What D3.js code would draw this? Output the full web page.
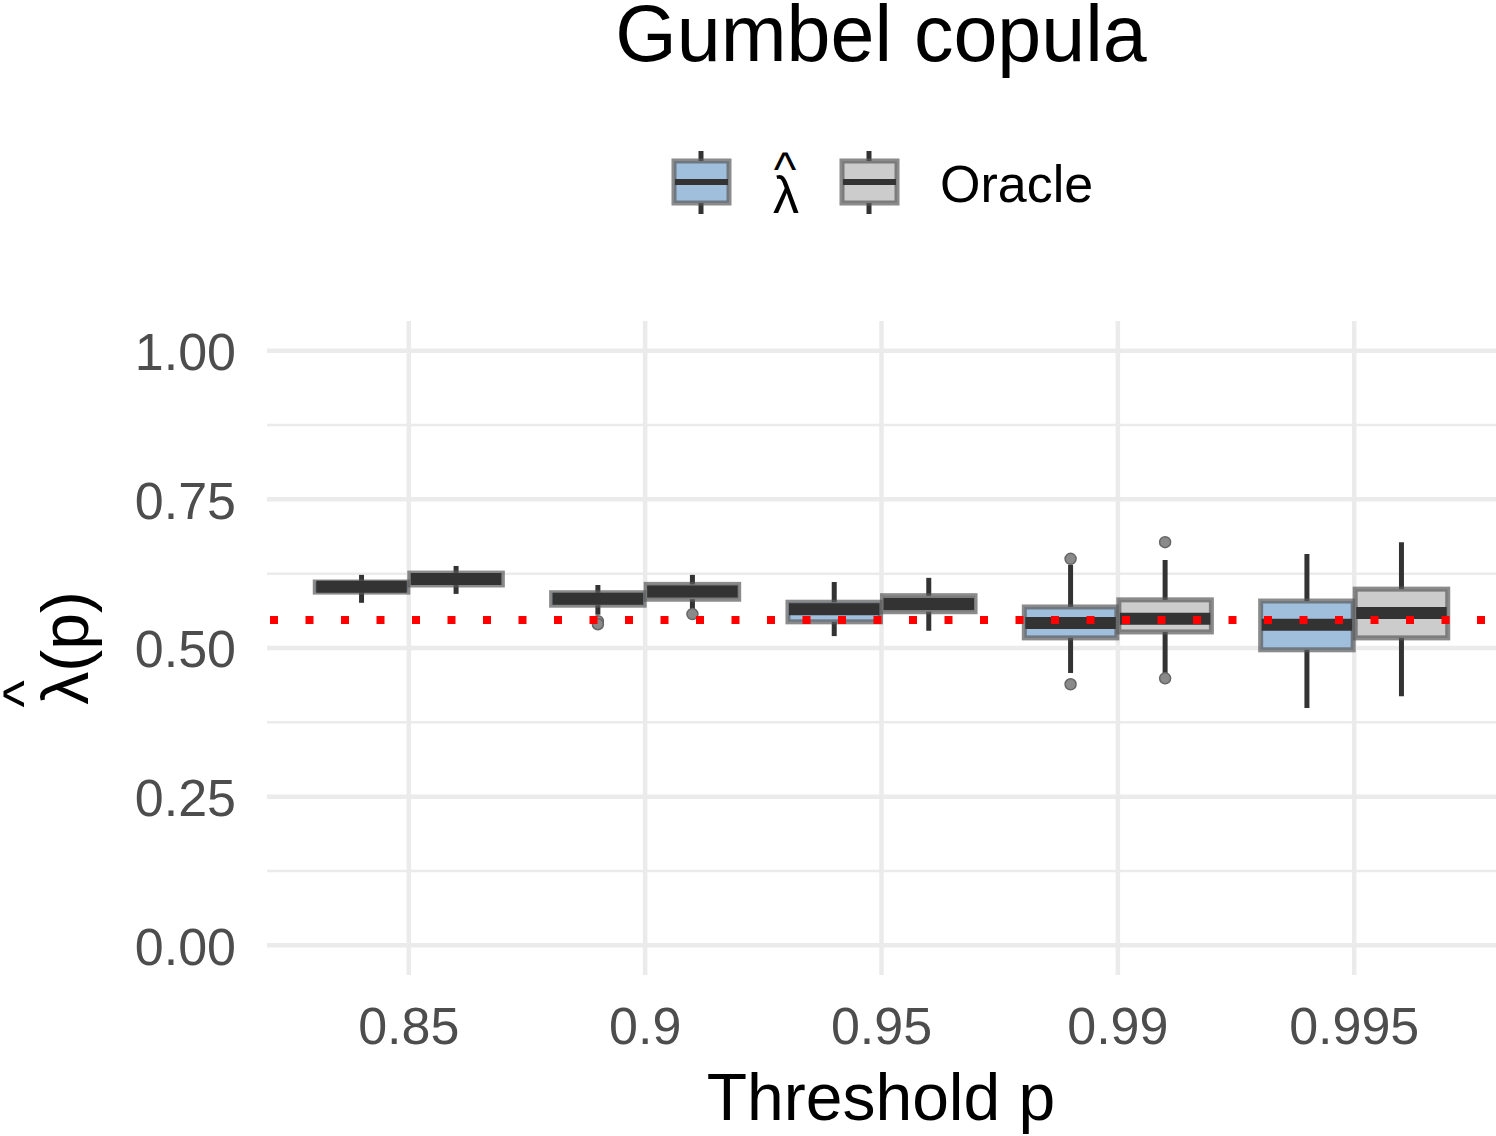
<!DOCTYPE html>
<html>
<head>
<meta charset="utf-8">
<script src="https://cdn.jsdelivr.net/npm/d3@7"></script>
<style>
  body { margin: 0; background: #fff; }
  text { font-family: "Liberation Sans", Arial, sans-serif; }
</style>
</head>
<body>
<div id="chart"></div>
<script>
var width = 1496,
    height = 1136;

// data
var thresholds = ["0.85", "0.9", "0.95", "0.99", "0.995"];
var methods = ["lambdahat", "oracle"];
var fills = {lambdahat: "#a0bfdc", oracle: "#cccccc"};

// [lower whisker, Q1, median, Q3, upper whisker]
var lambdaHatStats = [
  [0.576, 0.594, 0.603, 0.611, 0.623],
  [0.556, 0.572, 0.583, 0.593, 0.606],
  [0.520, 0.544, 0.565, 0.577, 0.611],
  [0.458, 0.517, 0.542, 0.569, 0.640],
  [0.399, 0.497, 0.539, 0.579, 0.658]
];
var oracleStats = [
  [0.591, 0.606, 0.616, 0.626, 0.638],
  [0.561, 0.582, 0.595, 0.607, 0.623],
  [0.529, 0.561, 0.574, 0.588, 0.618],
  [0.458, 0.527, 0.549, 0.581, 0.648],
  [0.419, 0.517, 0.559, 0.599, 0.678]
];
var lambdaHatOutliers = [[], [0.545, 0.540], [], [0.650, 0.439], []];
var oracleOutliers = [[], [0.557], [], [0.678, 0.449], []];

var trueValue = 0.547;
var yTicks = [0, 0.25, 0.5, 0.75, 1];
var yMinor = [0.125, 0.375, 0.625, 0.875];

var boxes = [];
thresholds.forEach(function (t, i) {
  boxes.push({t: t, m: "lambdahat", s: lambdaHatStats[i], out: lambdaHatOutliers[i]});
  boxes.push({t: t, m: "oracle", s: oracleStats[i], out: oracleOutliers[i]});
});

var svg = d3.select("#chart").append("svg")
    .attr("width", width)
    .attr("height", height);

var x = d3.scaleBand()
    .domain(thresholds)
    .range([267, 1496])
    .paddingOuter(0.1)
    .paddingInner(0);
var xc = function (t) { return x(t) + x.bandwidth() / 2; };

var xm = d3.scaleBand()
    .domain(methods)
    .range([-x.bandwidth() * 0.4, x.bandwidth() * 0.4]);

var y = d3.scaleLinear()
    .domain([-0.05, 1.05])
    .range([975, 321]);

// grid
var grid = svg.append("g");
grid.selectAll(".minor")
    .data(yMinor)
    .enter().append("line")
    .attr("x1", 267).attr("x2", 1496)
    .attr("y1", function (d) { return y(d); })
    .attr("y2", function (d) { return y(d); })
    .attr("stroke", "#ebebeb").attr("stroke-width", 2.5);
grid.selectAll(".major")
    .data(yTicks)
    .enter().append("line")
    .attr("x1", 267).attr("x2", 1496)
    .attr("y1", function (d) { return y(d); })
    .attr("y2", function (d) { return y(d); })
    .attr("stroke", "#ebebeb").attr("stroke-width", 4.5);
grid.selectAll(".vx")
    .data(thresholds)
    .enter().append("line")
    .attr("x1", xc).attr("x2", xc)
    .attr("y1", 321).attr("y2", 975)
    .attr("stroke", "#ebebeb").attr("stroke-width", 4.5);

// axes
var yAxis = svg.append("g")
    .attr("transform", "translate(236,0)")
    .call(d3.axisLeft(y).tickValues(yTicks).tickFormat(d3.format(".2f")).tickSize(0));
yAxis.select(".domain").remove();
yAxis.selectAll("text")
    .attr("font-size", 52).attr("fill", "#4d4d4d")
    .attr("x", 0).attr("dy", "0.36em")
    .style("font-family", "Liberation Sans, Arial, sans-serif");

var xAxis = svg.append("g")
    .attr("transform", "translate(0,1005)")
    .call(d3.axisBottom(x).tickSize(0));
xAxis.select(".domain").remove();
xAxis.selectAll("text")
    .attr("font-size", 52).attr("fill", "#4d4d4d")
    .attr("y", 0).attr("dy", "0.75em")
    .style("font-family", "Liberation Sans, Arial, sans-serif");

// boxes
var bw = xm.bandwidth();
var bg = svg.append("g").selectAll(".box")
    .data(boxes)
    .enter().append("g")
    .attr("transform", function (d) { return "translate(" + (xc(d.t) + xm(d.m) + bw / 2) + ",0)"; });

bg.append("line")
    .attr("x1", 0).attr("x2", 0)
    .attr("y1", function (d) { return y(d.s[0]); })
    .attr("y2", function (d) { return y(d.s[4]); })
    .attr("stroke", "#333").attr("stroke-width", 5);
bg.append("rect")
    .attr("x", -bw / 2 + 1).attr("width", bw - 2)
    .attr("y", function (d) { return y(d.s[3]); })
    .attr("height", function (d) { return y(d.s[1]) - y(d.s[3]); })
    .attr("fill", function (d) { return fills[d.m]; })
    .attr("stroke", "#5a5a5a").attr("stroke-opacity", 0.7).attr("stroke-width", 5);
bg.append("line")
    .attr("x1", -bw / 2 + 2).attr("x2", bw / 2 - 2)
    .attr("y1", function (d) { return y(d.s[2]); })
    .attr("y2", function (d) { return y(d.s[2]); })
    .attr("stroke", "#333").attr("stroke-width", 12);
bg.selectAll(".out")
    .data(function (d) { return d.out; })
    .enter().append("circle")
    .attr("cx", 0)
    .attr("cy", function (d) { return y(d); })
    .attr("r", 5.5)
    .attr("fill", "#8a8a8a").attr("stroke", "#666").attr("stroke-width", 1.5);

// reference line
svg.append("line")
    .attr("x1", 270).attr("x2", 1496)
    .attr("y1", y(trueValue)).attr("y2", y(trueValue))
    .attr("stroke", "#ff0000").attr("stroke-width", 8)
    .attr("stroke-dasharray", "8,27.5");

// titles
svg.append("text")
    .attr("x", 881).attr("y", 61)
    .attr("text-anchor", "middle")
    .attr("font-size", 79)
    .text("Gumbel copula");

svg.append("text")
    .attr("x", 881).attr("y", 1120)
    .attr("text-anchor", "middle")
    .attr("font-size", 66)
    .text("Threshold p");

var yt = svg.append("g").attr("transform", "translate(88,648) rotate(-90)");
yt.append("text")
    .attr("x", 0).attr("y", 0)
    .attr("text-anchor", "middle")
    .attr("font-size", 66)
    .text("λ(p)");
yt.append("text")
    .attr("x", -46).attr("y", -45)
    .attr("text-anchor", "middle")
    .attr("font-size", 58)
    .text("^");

// legend
var legendItems = [
  {m: "lambdahat", x: 673},
  {m: "oracle", x: 841}
];
var lg = svg.append("g").selectAll(".key")
    .data(legendItems)
    .enter().append("g")
    .attr("transform", function (d) { return "translate(" + d.x + ",0)"; });
lg.append("line")
    .attr("x1", 28).attr("x2", 28).attr("y1", 151).attr("y2", 214)
    .attr("stroke", "#333").attr("stroke-width", 5);
lg.append("rect")
    .attr("x", 1).attr("y", 161).attr("width", 55).attr("height", 42)
    .attr("fill", function (d) { return fills[d.m]; })
    .attr("stroke", "#5a5a5a").attr("stroke-opacity", 0.7).attr("stroke-width", 5);
lg.append("line")
    .attr("x1", 2).attr("x2", 55).attr("y1", 182).attr("y2", 182)
    .attr("stroke", "#333").attr("stroke-width", 6);

svg.append("text")
    .attr("x", 786).attr("y", 213)
    .attr("text-anchor", "middle")
    .attr("font-size", 52)
    .text("λ");
svg.append("text")
    .attr("x", 785).attr("y", 186)
    .attr("text-anchor", "middle")
    .attr("font-size", 48)
    .text("^");
svg.append("text")
    .attr("x", 940).attr("y", 202)
    .attr("font-size", 52)
    .text("Oracle");
</script>
</body>
</html>
